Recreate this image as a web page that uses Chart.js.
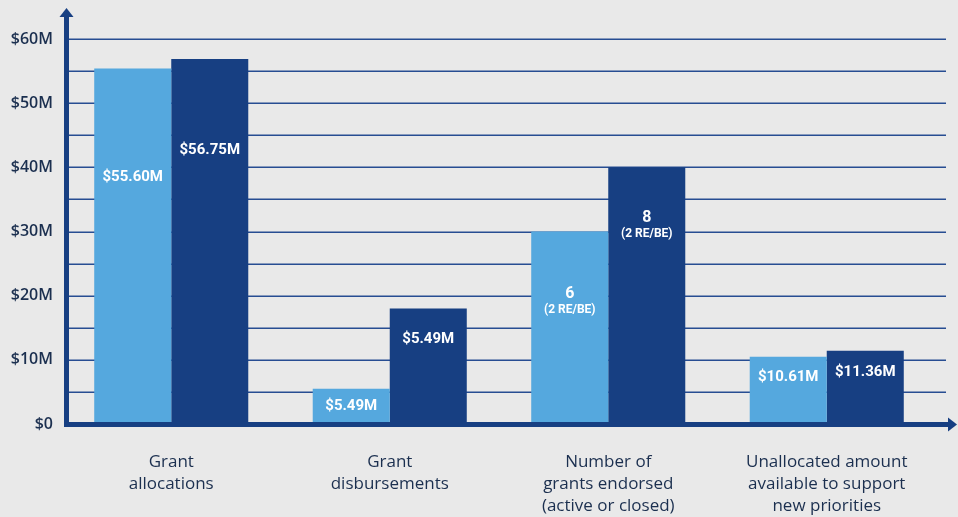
<!DOCTYPE html>
<html lang="en">
<head>
    <meta charset="UTF-8">
    <title>Grant funding overview</title>
    <script src="https://cdn.jsdelivr.net/npm/chart.js"></script>
    <style>
        html, body { margin: 0; padding: 0; background: #e9e9e9; }
        #wrap { width: 958px; height: 517px; }
    </style>
</head>
<body>
<div id="wrap"><canvas id="grantChart" width="958" height="517"></canvas></div>
<script>
    // categories (multi-line x labels)
    const categories = [
        ['Grant', 'allocations'],
        ['Grant', 'disbursements'],
        ['Number of', 'grants endorsed', '(active or closed)'],
        ['Unallocated amount', 'available to support', 'new priorities']
    ];

    // bar heights as drawn (in $M on the axis)
    const lightValues = [55.4, 5.5, 30, 10.5];
    const darkValues = [56.9, 18, 40, 11.4];

    // text printed inside the bars
    const lightLabels = ['$55.60M', '$5.49M', ['6', '(2 RE/BE)'], '$10.61M'];
    const darkLabels = ['$56.75M', '$5.49M', ['8', '(2 RE/BE)'], '$11.36M'];

    // y axis
    const yTicks = [0, 10, 20, 30, 40, 50, 60];
    const yTickText = ['$0', '$10M', '$20M', '$30M', '$40M', '$50M', '$60M'];

    const LIGHT = '#55a8de';
    const DARK = '#173f82';
    const INK = '#1b2f4f';
    const AXIS_X = 66.5;

    // gridlines every $5M, reaching past the last bar
    const gridPlugin = {
        id: 'gridPlugin',
        beforeDatasetsDraw(chart) {
            const { ctx, chartArea, scales: { y } } = chart;
            ctx.save();
            ctx.strokeStyle = '#274d92';
            ctx.lineWidth = 1.5;
            for (let v = 5; v <= 60; v += 5) {
                const py = Math.round(y.getPixelForValue(v)) + 0.25;
                ctx.beginPath();
                ctx.moveTo(AXIS_X, py);
                ctx.lineTo(chartArea.right + 10, py);
                ctx.stroke();
            }
            ctx.restore();
        }
    };

    // the two axis arrows
    const axisPlugin = {
        id: 'axisPlugin',
        afterDatasetsDraw(chart) {
            const { ctx, scales: { y } } = chart;
            const x0 = AXIS_X;
            const y0 = y.getPixelForValue(0) + 0.5;
            ctx.save();
            ctx.strokeStyle = DARK;
            ctx.fillStyle = DARK;
            ctx.lineWidth = 5;
            ctx.lineCap = 'butt';
            ctx.beginPath();
            ctx.moveTo(x0, y0 + 2.5);
            ctx.lineTo(x0, 14);
            ctx.stroke();
            ctx.beginPath();
            ctx.moveTo(x0 - 2.5, y0);
            ctx.lineTo(950, y0);
            ctx.stroke();
            // up arrow
            ctx.beginPath();
            ctx.moveTo(x0, 8);
            ctx.lineTo(x0 + 7, 17);
            ctx.lineTo(x0 - 7, 17);
            ctx.closePath();
            ctx.fill();
            // right arrow
            ctx.beginPath();
            ctx.moveTo(957, y0);
            ctx.lineTo(948, y0 - 7);
            ctx.lineTo(948, y0 + 7);
            ctx.closePath();
            ctx.fill();
            ctx.restore();
        }
    };

    // white value labels inside bars, offset down from each bar's top
    const lightDrop = [109, 18, 62, 21];
    const darkDrop = [91, 31, 51, 21];
    const barLabelPlugin = {
        id: 'barLabelPlugin',
        afterDatasetsDraw(chart) {
            const { ctx } = chart;
            ctx.save();
            ctx.fillStyle = '#ffffff';
            ctx.textAlign = 'center';
            ctx.textBaseline = 'middle';
            [[lightLabels, lightDrop], [darkLabels, darkDrop]].forEach(([labels, drops], di) => {
                chart.getDatasetMeta(di).data.forEach((bar, i) => {
                    const txt = labels[i];
                    const ty = bar.y + drops[i];
                    if (Array.isArray(txt)) {
                        ctx.font = 'bold 16px Roboto';
                        ctx.fillText(txt[0], bar.x, ty);
                        ctx.font = 'bold 12px Roboto';
                        ctx.fillText(txt[1], bar.x, ty + 16);
                    } else {
                        ctx.font = 'bold 15px Roboto';
                        ctx.fillText(txt, bar.x, ty);
                    }
                });
            });
            ctx.restore();
        }
    };

    new Chart(document.getElementById('grantChart'), {
        type: 'bar',
        data: {
            labels: categories,
            datasets: [
                { data: lightValues, backgroundColor: LIGHT },
                { data: darkValues, backgroundColor: DARK }
            ]
        },
        options: {
            responsive: false,
            animation: false,
            events: [],
            layout: { padding: { top: 39, right: 22, left: 0, bottom: 0 } },
            datasets: {
                bar: { categoryPercentage: 0.705, barPercentage: 1, borderWidth: 0 }
            },
            plugins: {
                legend: { display: false },
                tooltip: { enabled: false }
            },
            scales: {
                x: {
                    grid: { display: false, drawTicks: false },
                    border: { display: false },
                    ticks: {
                        color: INK,
                        padding: 27,
                        maxRotation: 0,
                        autoSkip: false,
                        font: { family: 'Open Sans', size: 17, lineHeight: '22px' }
                    },
                    afterFit(scale) { scale.height = 93; }
                },
                y: {
                    min: 0,
                    max: 60,
                    grid: { display: false, drawTicks: false },
                    border: { display: false },
                    afterBuildTicks(scale) {
                        scale.ticks = yTicks.map(v => ({ value: v }));
                    },
                    ticks: {
                        color: INK,
                        padding: 9,
                        font: { family: 'Open Sans', size: 16, weight: '600' },
                        callback: (v) => yTickText[yTicks.indexOf(v)]
                    },
                    afterFit(scale) { scale.width = 62; }
                }
            }
        },
        plugins: [gridPlugin, axisPlugin, barLabelPlugin]
    });
</script>
</body>
</html>
